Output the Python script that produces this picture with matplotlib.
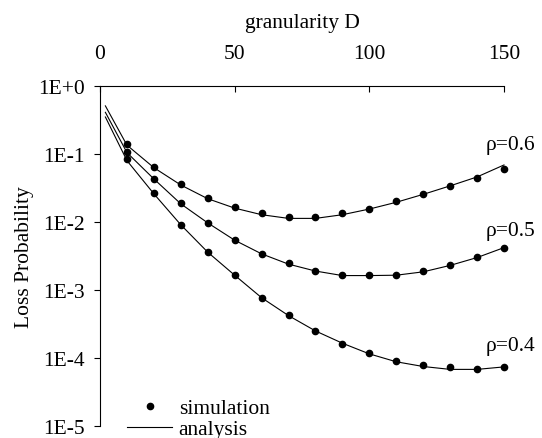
import matplotlib
matplotlib.use("Agg")
import matplotlib.pyplot as plt
from matplotlib.lines import Line2D

plt.rcParams['font.family'] = ['Liberation Serif', 'DejaVu Serif']

# simulation points
D_sim = [10, 20, 30, 40, 50, 60, 70, 80, 90, 100, 110, 120, 130, 140, 150]
sim_06 = [0.14, 0.065, 0.0362, 0.0225, 0.0164, 0.0136, 0.0117, 0.0119, 0.0136,
          0.0155, 0.0201, 0.0261, 0.0338, 0.0439, 0.0608]
sim_05 = [0.108, 0.0434, 0.0188, 0.00966, 0.00543, 0.00342, 0.00247, 0.0019,
          0.00166, 0.00166, 0.00166, 0.00188, 0.00233, 0.00302, 0.00415]
sim_04 = [0.084, 0.0264, 0.00904, 0.00362, 0.00166, 0.000762, 0.000428, 0.000252,
          0.000162, 0.000117, 0.0000894, 0.000078, 0.0000738, 0.0000697, 0.0000738]

# analysis curves
D_ana = [2, 10, 20, 30, 40, 50, 60, 70, 80, 90, 100, 110, 120, 130, 140, 150]
ana_06 = [0.51, 0.135, 0.063, 0.035, 0.022, 0.0160, 0.0128, 0.0113, 0.0113, 0.0128,
          0.0155, 0.0195, 0.0255, 0.034, 0.046, 0.069]
ana_05 = [0.41, 0.105, 0.043, 0.0185, 0.0097, 0.0054, 0.0034, 0.0024, 0.0019, 0.00163,
          0.00163, 0.00165, 0.00185, 0.0023, 0.0030, 0.0042]
ana_04 = [0.35, 0.08, 0.026, 0.0091, 0.0036, 0.00165, 0.00077, 0.00042, 0.00025,
          0.000165, 0.000115, 0.000088, 0.000075, 0.000068, 0.000068, 0.000074]

rho_labels = ['ρ=0.6', 'ρ=0.5', 'ρ=0.4']
label_y = [0.14, 0.0074, 0.000155]

x_ticks = [0, 50, 100, 150]
y_ticks = [1e0, 1e-1, 1e-2, 1e-3, 1e-4, 1e-5]
y_ticklabels = ['1E+0', '1E-1', '1E-2', '1E-3', '1E-4', '1E-5']

FS = 15.5

fig = plt.figure(figsize=(5.42, 4.39), dpi=100)
ax = fig.add_axes([100/542, 1-427/439, 404/542, 340/439])

for ana in (ana_06, ana_05, ana_04):
    ax.plot(D_ana, ana, color='black', lw=0.8, clip_on=False)
for sim in (sim_06, sim_05, sim_04):
    ax.plot(D_sim, sim, linestyle='none', marker='o', ms=4.5, color='black', clip_on=False)

for lab, yv in zip(rho_labels, label_y):
    ax.text(152.5, yv, lab, ha='center', va='center', fontsize=FS, clip_on=False)

ax.set_yscale('log')
ax.set_ylim(1e-5, 1)
ax.set_xlim(0, 150)
ax.set_xticks(x_ticks)
ax.set_yticks(y_ticks)
ax.set_yticklabels(y_ticklabels)
ax.minorticks_off()
ax.xaxis.tick_top()
ax.xaxis.set_label_position('top')
ax.tick_params(axis='x', direction='in', length=4, width=0.8, pad=16.5, labelsize=FS)
ax.tick_params(axis='y', direction='out', length=4, width=0.8, pad=7, labelsize=FS)
ax.spines['bottom'].set_visible(False)
ax.spines['right'].set_visible(False)
ax.spines['top'].set_linewidth(0.8)
ax.spines['left'].set_linewidth(0.8)
ax.set_xlabel('granularity D', fontsize=FS, labelpad=12)
ax.set_ylabel('Loss Probability', fontsize=FS, labelpad=3)

handles = [Line2D([], [], linestyle='none', marker='o', ms=4.5, color='black'),
           Line2D([], [], color='black', lw=0.8)]
fig.legend(handles, ['simulation', 'analysis'], loc='upper left',
           bbox_to_anchor=(127/542, 1-399/439), frameon=False, fontsize=FS,
           handlelength=2.1, handletextpad=0.3, labelspacing=0.05,
           borderpad=0, borderaxespad=0)

fig.savefig('out.png', dpi=100)
